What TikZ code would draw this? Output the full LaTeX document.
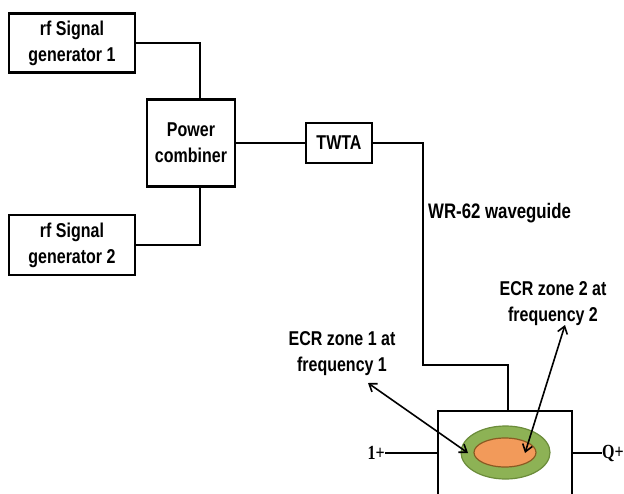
\documentclass[tikz,border=0pt]{standalone}
\usepackage{fontspec}
\setmainfont{Liberation Sans}[FakeStretch=0.8]
\newfontfamily\serfont{Liberation Serif}[FakeStretch=0.8]
\usetikzlibrary{arrows.meta,shapes.geometric}
\definecolor{ecrgreen}{HTML}{8DB255}
\definecolor{ecrgreenline}{HTML}{6B8C3A}
\definecolor{ecrorange}{HTML}{F29A5A}
\definecolor{ecrorangeline}{HTML}{8A5A22}
\begin{document}
\begin{tikzpicture}[x=1pt,y=-1pt,
  box/.style={draw,line width=2.5pt,rectangle,inner sep=0pt,align=center,font={\bfseries\fontsize{20}{26}\selectfont}},
  wire/.style={line width=2.3pt},
  lbl/.style={align=center,inner sep=0pt,font={\bfseries\fontsize{20}{26}\selectfont}},
  ptr/.style={line width=1.6pt,{Straight Barb[length=7pt,width=10pt]}-{Straight Barb[length=7pt,width=10pt]}},
  port/.style={inner sep=0pt,font={\serfont\bfseries\fontsize{20}{24}\selectfont}}]
\useasboundingbox (0,0) rectangle (624,493);
\clip (0,0) rectangle (624,493);
% boxes
\node[box,minimum width=126pt,minimum height=59pt] (gen1) at (72,43) {rf Signal\\generator 1};
\node[box,minimum width=126pt,minimum height=60pt] (gen2) at (72,245) {rf Signal\\generator 2};
\node[box,minimum width=88pt,minimum height=87pt] (pc) at (191,143) {Power\\combiner};
\node[box,minimum width=66pt,minimum height=40pt] (twta) at (339,143) {TWTA};
\node[draw,line width=2.5pt,rectangle,minimum width=134pt,minimum height=110pt,inner sep=0pt] (chamber) at (505,466) {};
% ECR zones
\node[ellipse,draw=ecrgreenline,fill=ecrgreen,line width=1.2pt,minimum width=89pt,minimum height=53pt,inner sep=0pt] (zone1) at (505.5,452.5) {};
\node[ellipse,draw=ecrorangeline,fill=ecrorange,line width=1.2pt,minimum width=62pt,minimum height=29pt,inner sep=0pt] (zone2) at (505,452.5) {};
% connections
\draw[wire] (gen1.east) -| ([xshift=9pt]pc.north);
\draw[wire] (gen2.east) -| ([xshift=9pt]pc.south);
\draw[wire] (pc.east) -- (twta.west);
\coordinate (bend) at (423,365);
\draw[wire] (twta.east) -| (bend) -| ([xshift=3pt]chamber.north);
\node[lbl,anchor=west,font={\bfseries\fontsize{21}{24}\selectfont}] (wg) at (428,213) {WR-62 waveguide};
% ports
\node[port,anchor=east] (ip) at (385,453) {1+};
\node[port,anchor=east] (qp) at (624,453) {Q+};
\draw[wire] (ip.east) -- (ip.east -| chamber.west);
\draw[wire] (qp.west -| chamber.east) -- (qp.west);
% labels and pointers
\node[lbl] (lab1) at (342,354) {ECR zone 1 at\\frequency 1};
\node[lbl] (lab2) at (553,304) {ECR zone 2 at\\frequency 2};
\coordinate (p1a) at (368,383);
\coordinate (p1b) at (468,453);
\coordinate (p2a) at (565,325);
\coordinate (p2b) at (525,453);
\draw[ptr] (p1a) -- (p1b);
\draw[ptr] (p2a) -- (p2b);
\end{tikzpicture}
\end{document}
